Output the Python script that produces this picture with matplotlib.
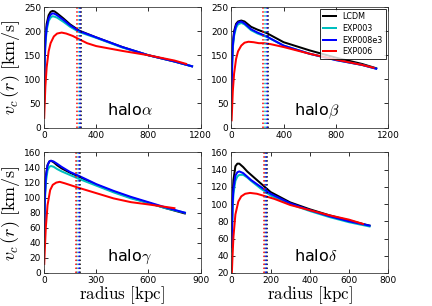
import matplotlib
matplotlib.use('Agg')
import matplotlib.pyplot as plt

# model names / colours
models = ['LCDM', 'EXP003', 'EXP008e3', 'EXP006']
colors = ['k', 'c', 'b', 'r']

# --- halo alpha ---
r_a = [1, 5, 10, 20, 35, 50, 65, 80, 100, 150, 200, 270, 400, 600, 800, 1000, 1135]
v_a_lcdm = [60, 150, 185, 215, 233, 240, 242, 241, 237, 226, 214, 201, 187, 167, 150, 137, 127]
v_a_exp003 = [50, 135, 172, 202, 221, 228, 231, 230, 228, 219, 209, 198, 186, 166, 150, 137, 127]
v_a_exp008 = [55, 140, 178, 208, 227, 234, 237, 236, 233, 223, 212, 200, 187, 167, 150, 137, 127]
r_a_red = [1, 5, 10, 20, 35, 50, 75, 100, 135, 170, 220, 270, 330, 400, 500, 600, 800, 1000, 1090]
v_a_exp006 = [20, 50, 85, 125, 158, 175, 189, 195, 197, 195, 190, 183, 175, 169, 164, 159, 150, 139, 132]
r200_a = [285, 268, 278, 255]

# --- halo beta ---
r_b = [1, 5, 10, 20, 35, 50, 75, 100, 150, 200, 270, 400, 600, 800, 1000, 1110]
v_b_lcdm = [60, 140, 175, 200, 215, 220, 222, 220, 209, 203, 196, 177, 160, 145, 132, 123]
v_b_exp003 = [50, 130, 165, 190, 207, 214, 217, 214, 202, 195, 188, 170, 153, 140, 130, 122]
v_b_exp008 = [55, 135, 170, 195, 212, 218, 220, 216, 204, 197, 189, 170, 153, 140, 130, 122]
r_b_red = [1, 5, 10, 20, 35, 50, 75, 100, 130, 170, 210, 250, 300, 400, 600, 800, 1000, 1090]
v_b_exp006 = [15, 42, 75, 112, 142, 158, 170, 176, 178, 177, 175, 175, 173, 167, 153, 141, 130, 124]
r200_b = [280, 258, 270, 245]

# --- halo gamma ---
r_g = [1, 5, 10, 20, 30, 40, 55, 75, 100, 150, 200, 300, 400, 500, 600, 700, 810]
v_g_lcdm = [50, 105, 128, 143, 148, 149, 147, 143, 139, 133, 128, 117, 108, 100, 93, 86, 79]
v_g_exp003 = [42, 95, 120, 136, 141, 142, 141, 138, 135, 130, 125, 116, 107, 99, 93, 86, 80]
v_g_exp008 = [48, 103, 127, 143, 148, 149, 148, 145, 141, 134, 129, 118, 109, 101, 94, 87, 80]
r_g_red = [1, 5, 10, 20, 35, 50, 70, 90, 120, 160, 200, 300, 400, 500, 600, 750]
v_g_exp006 = [12, 35, 60, 90, 110, 117, 120, 121, 119, 116, 113, 106, 99, 94, 91, 86]
r200_g = [205, 192, 200, 185]

# --- halo delta ---
r_d = [1, 5, 10, 20, 30, 40, 60, 80, 100, 150, 200, 300, 400, 500, 600, 706]
v_d_lcdm = [55, 105, 128, 144, 147, 147, 143, 138, 134, 124, 114, 102, 94, 87, 81, 75]
v_d_exp003 = [45, 90, 112, 127, 132, 134, 134, 131, 127, 118, 110, 100, 92, 85, 79, 74]
v_d_exp008 = [50, 98, 118, 133, 137, 138, 136, 132, 128, 120, 112, 101, 93, 86, 80, 75]
r_d_red = [1, 5, 10, 20, 35, 50, 70, 95, 130, 175, 220, 300, 400, 500, 600, 672]
v_d_exp006 = [15, 38, 62, 88, 103, 109, 112, 113, 112, 109, 106, 99, 93, 87, 82, 77]
r200_d = [180, 172, 177, 167]

halos = [
    (r'halo$\alpha$', [r_a, r_a, r_a, r_a_red],
     [v_a_lcdm, v_a_exp003, v_a_exp008, v_a_exp006], r200_a,
     (0, 1200), [0, 400, 800, 1200], (0, 250), [0, 50, 100, 150, 200, 250]),
    (r'halo$\beta$', [r_b, r_b, r_b, r_b_red],
     [v_b_lcdm, v_b_exp003, v_b_exp008, v_b_exp006], r200_b,
     (0, 1200), [0, 400, 800, 1200], (0, 250), [0, 50, 100, 150, 200, 250]),
    (r'halo$\gamma$', [r_g, r_g, r_g, r_g_red],
     [v_g_lcdm, v_g_exp003, v_g_exp008, v_g_exp006], r200_g,
     (0, 900), [0, 300, 600, 900], (0, 160), [0, 20, 40, 60, 80, 100, 120, 140, 160]),
    (r'halo$\delta$', [r_d, r_d, r_d, r_d_red],
     [v_d_lcdm, v_d_exp003, v_d_exp008, v_d_exp006], r200_d,
     (0, 800), [0, 200, 400, 600, 800], (20, 160), [20, 40, 60, 80, 100, 120, 140, 160]),
]

plt.rcParams['mathtext.fontset'] = 'cm'
plt.rcParams['font.size'] = 9

fig, axes = plt.subplots(2, 2, figsize=(6, 4.25), dpi=72)
fig.subplots_adjust(left=0.102, right=0.898, bottom=0.108, top=0.977,
                    wspace=0.198, hspace=0.207)

for i, (ax, h) in enumerate(zip(axes.flat, halos)):
    name, rs, vs, r200, xlim, xticks, ylim, yticks = h
    for r, v, c, m in zip(rs, vs, colors, models):
        ax.plot(r, v, color=c, lw=2, label=m)
    for x, c in zip(r200, colors):
        ax.axvline(x, color=c, ls=':', lw=1.5)
    ax.set_xlim(*xlim)
    ax.set_ylim(*ylim)
    ax.set_xticks(xticks)
    ax.set_yticks(yticks)
    ax.tick_params(direction='in', top=True, right=True, length=4,
                   labelsize=9, pad=3)
    for s in ax.spines.values():
        s.set_color('#333333')
    ax.text(0.40, 0.10, name, transform=ax.transAxes, fontsize=16,
            va='baseline', ha='left')
    if i % 2 == 0:
        ax.set_ylabel(r'$v_c\,(r)\ \mathrm{[km/s]}$', fontsize=18, labelpad=2)
    if i >= 2:
        ax.set_xlabel(r'$\mathrm{radius\ [kpc]}$', fontsize=17, labelpad=-1)

leg = axes[0, 1].legend(loc='upper right', fontsize=8, fancybox=False,
                        handlelength=1.6, handletextpad=0.8,
                        labelspacing=0.33, borderpad=0.35, borderaxespad=0.3)
leg.get_frame().set_edgecolor('k')
leg.get_frame().set_linewidth(1)

fig.savefig('out.png', dpi=72, facecolor='white')
